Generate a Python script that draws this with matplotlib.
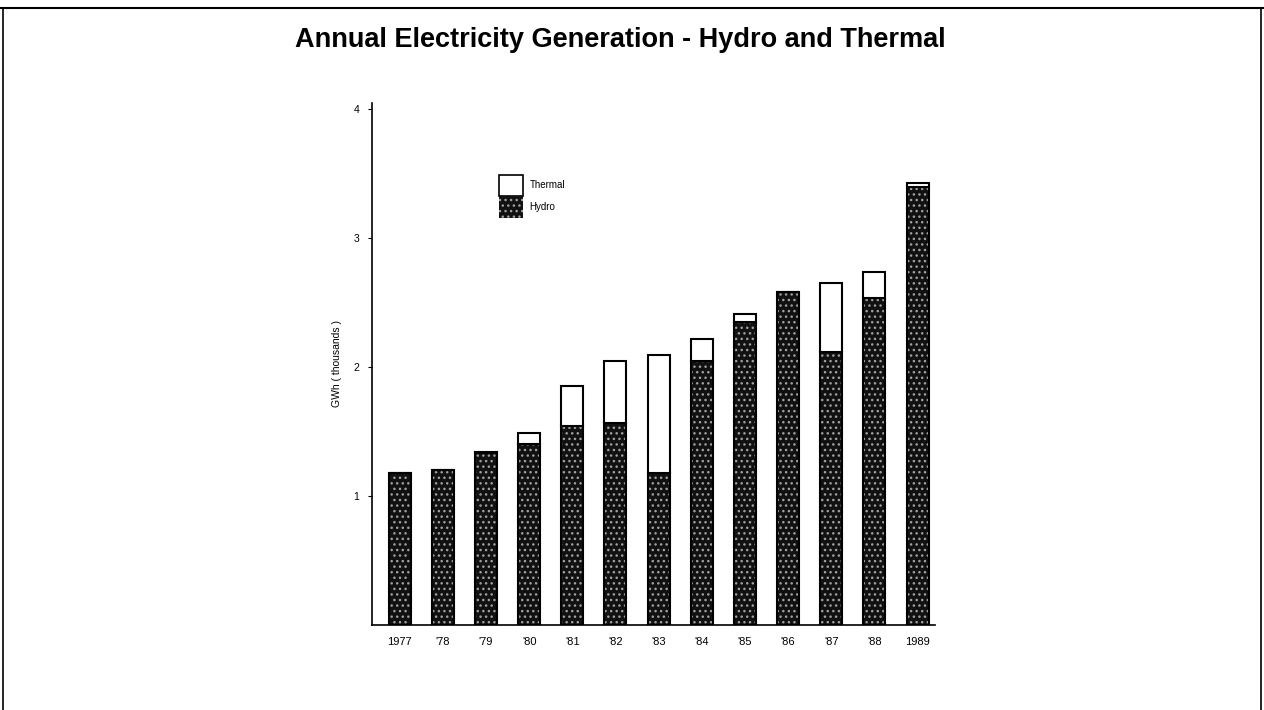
import matplotlib
matplotlib.use("Agg")
import matplotlib.pyplot as plt
from matplotlib.patches import Patch
from matplotlib.lines import Line2D

plt.rcParams['font.family'] = ['Liberation Sans', 'DejaVu Sans']
plt.rcParams['hatch.linewidth'] = 1.0

years = ["1977", "'78", "'79", "'80", "'81", "'82", "'83",
         "'84", "'85", "'86", "'87", "'88", "1989"]
hydro = [1.18, 1.20, 1.33, 1.40, 1.54, 1.57, 1.18, 2.05, 2.35, 2.58, 2.12, 2.54, 3.40]
total = [1.18, 1.20, 1.34, 1.49, 1.85, 2.05, 2.09, 2.22, 2.41, 2.58, 2.65, 2.74, 3.43]
thermal = [t - h for t, h in zip(total, hydro)]

dark = "#111111"
speck = "#a0a0a0"

fig = plt.figure(figsize=(12.64, 7.10), dpi=100)
ax = fig.add_axes([0.294, 0.120, 0.4456, 0.735])

x = range(len(years))
w = 0.51
# hydro: near-black fill with light speckle
ax.bar(x, hydro, width=w, color=dark, edgecolor=speck, hatch="...", linewidth=0)
ax.bar(x, hydro, width=w, fill=False, edgecolor="black", linewidth=1.5)
# thermal on top, white box
ax.bar(x, thermal, width=w, bottom=hydro, color="white", edgecolor="black", linewidth=1.5)

ax.set_xlim(-0.65, 12.4)
ax.set_ylim(0, 4.05)
ax.set_yticks([1, 2, 3, 4])
ax.set_yticklabels(["1", "2", "3", "4"], fontsize=7.5)
ax.set_xticks(list(x))
ax.set_xticklabels(years, fontsize=8)
ax.tick_params(axis="x", length=0, pad=9)
ax.tick_params(axis="y", length=3, direction="out", pad=6)
for s in ["top", "right"]:
    ax.spines[s].set_visible(False)
ax.spines["left"].set_linewidth(1.2)
ax.spines["bottom"].set_linewidth(1.2)
ax.set_ylabel("GWh ( thousands )", fontsize=7.5, labelpad=8)

handles = [Patch(facecolor="white", edgecolor="black", linewidth=1.2),
           Patch(facecolor=dark, edgecolor=speck, hatch="...", linewidth=0)]
ax.legend(handles, ["Thermal", "Hydro"], loc="upper left",
          bbox_to_anchor=(0.227, 0.862), frameon=False, fontsize=7,
          handlelength=2.4, handleheight=3.0, labelspacing=0.0,
          borderpad=0, borderaxespad=0, handletextpad=0.7)

fig.text(0.491, 0.934, "Annual Electricity Generation - Hydro and Thermal",
         fontsize=19.5, fontweight="bold", ha="center", va="baseline")

# page frame from the scan
fig.add_artist(Line2D([0.0, 1.0], [0.989, 0.989], color="black", lw=1.5))
fig.add_artist(Line2D([0.002, 0.002], [0.0, 0.989], color="black", lw=1.2))
fig.add_artist(Line2D([0.998, 0.998], [0.0, 0.989], color="black", lw=1.2))

fig.savefig("out.png", dpi=100)
